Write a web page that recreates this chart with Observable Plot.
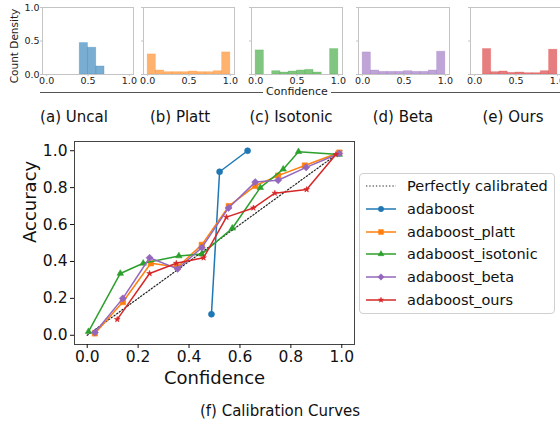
<!DOCTYPE html>
<html><head><meta charset="utf-8">
<script src="https://cdn.jsdelivr.net/npm/d3@7"></script>
<script src="https://cdn.jsdelivr.net/npm/@observablehq/plot@0.6"></script>
<style>
body{margin:0;background:#fff;}
#root{position:relative;width:560px;height:421px;overflow:hidden;font-family:"DejaVu Sans",sans-serif;color:#111;}
.cap{position:absolute;transform:translate(-50%,-50%);font-size:15px;white-space:nowrap;}
</style></head><body><div id="root"></div>
<script>
// ---------- data ----------
const binEdges = [0,0.1,0.2,0.3,0.4,0.5,0.6,0.7,0.8,0.9,1.0];
const histUncal    = [0,0,0,0,0.47,0.40,0.12,0,0,0];
const histPlatt    = [0.30,0.06,0.035,0.035,0.035,0.045,0.035,0.035,0.05,0.33];
const histIsotonic = [0.36,0,0.05,0.03,0.045,0.06,0.07,0.03,0,0.38];
const histBeta     = [0.33,0.06,0.04,0.04,0.04,0.05,0.04,0.04,0.06,0.34];
const histOurs     = [0,0.38,0.035,0.045,0.025,0.03,0.02,0.02,0.05,0.37];
const histCaptions = ["(a) Uncal","(b) Platt","(c) Isotonic","(d) Beta","(e) Ours"];

const seriesNames = ["adaboost","adaboost_platt","adaboost_isotonic","adaboost_beta","adaboost_ours"];
const seriesColors = ["#1f77b4","#ff7f0e","#2ca02c","#9467bd","#d62728"];
const uncalConf = [0.488,0.52,0.63];
const uncalAcc  = [0.114,0.886,1.0];
const plattConf = [0.03,0.14,0.25,0.355,0.45,0.556,0.66,0.75,0.855,0.99];
const plattAcc  = [0.01,0.18,0.39,0.37,0.49,0.70,0.81,0.865,0.92,0.99];
const isoConf   = [0.005,0.13,0.22,0.36,0.45,0.57,0.68,0.77,0.83,0.99];
const isoAcc    = [0.02,0.335,0.39,0.43,0.44,0.58,0.80,0.90,0.995,0.98];
const betaConf  = [0.03,0.14,0.245,0.355,0.45,0.555,0.66,0.75,0.86,0.99];
const betaAcc   = [0.015,0.20,0.42,0.36,0.475,0.69,0.83,0.84,0.91,0.985];
const oursConf  = [0.118,0.245,0.35,0.457,0.547,0.653,0.737,0.862,0.977];
const oursAcc   = [0.086,0.335,0.39,0.42,0.64,0.69,0.77,0.79,0.98];
const perfectConf = [0,1];
const perfectAcc  = [0,1];
const mainTicks = [0,0.2,0.4,0.6,0.8,1.0];
const histTicks = [0,0.5,1.0];

// ---------- layout ----------
const root = document.getElementById("root");
function place(el, left, top){ el.style.position="absolute"; el.style.left=left+"px"; el.style.top=top+"px"; root.appendChild(el); return el; }
const f1 = d3.format(".1f");

// histograms
const histVals = [histUncal,histPlatt,histIsotonic,histBeta,histOurs];
const frameLefts = [42,143,251,358,470];
const capX = [74,180,291,403,513];
const fw = 91, fTop = 7, fh = 67;
histVals.forEach((vals, k) => {
  const data = vals.map((v,i)=>({x1:binEdges[i], x2:binEdges[i+1], y:v})).filter(d=>d.y>0);
  const mL = k===0 ? 42 : 3, mR = 3, mT = 5, mB = 16;
  const marks = [
    Plot.rectY(data, {x1:"x1", x2:"x2", y:"y", fill:seriesColors[k], fillOpacity:0.6, stroke:seriesColors[k], strokeOpacity:0.25, strokeWidth:0.8, insetLeft:0, insetRight:0}),
    Plot.frame({stroke:"#c4c4c4"}),
    Plot.axisX({ticks:histTicks, tickFormat:f1, tickSize:2, tickPadding:1, fontSize:9.5, stroke:"#c4c4c4", label:null}),
    Plot.axisY({ticks:histTicks, tickFormat: k===0 ? f1 : ()=>"", tickSize:2, tickPadding:1, fontSize:9.5, stroke:"#c4c4c4", label:null})
  ];
  const p = Plot.plot({
    width: fw+mL+mR, height: fh+mT+mB,
    marginLeft:mL, marginRight:mR, marginTop:mT, marginBottom:mB,
    style:{fontFamily:"DejaVu Sans", color:"#222", background:"transparent", overflow:"visible"},
    x:{domain:[-0.05,1.05]}, y:{domain:[0,1]},
    marks
  });
  place(p, frameLefts[k]-mL, fTop-mT);
  const c = document.createElement("div"); c.className="cap"; c.textContent=histCaptions[k];
  place(c, capX[k], 117);
});
// y label of first histogram
const cd = document.createElement("div");
cd.textContent = "Count Density";
cd.style.cssText = "font-size:10.5px;white-space:nowrap;color:#222;transform:translate(-50%,-50%) rotate(-90deg);line-height:12px;";
place(cd, 14, 46);

// shared confidence rule
const rule = document.createElement("div");
rule.style.cssText="display:flex;align-items:center;width:520px;height:14px;";
rule.innerHTML = '<div style="flex:0 0 223px;border-top:1px solid #555"></div><span style="font-size:11px;padding:0 3px;line-height:14px;color:#222">Confidence</span><div style="flex:1;border-top:1px solid #555"></div>';
place(rule, 40, 85);

// main calibration plot
const series = [[uncalConf,uncalAcc],[plattConf,plattAcc],[isoConf,isoAcc],[betaConf,betaAcc],[oursConf,oursAcc]];
const symbols = ["circle","square","triangle","diamond2","star"];
const radii = [3,3,2.4,3.2,1.8];
const toRows = (cs, as) => cs.map((c,i)=>({conf:c, acc:as[i]}));
const mainMarks = [
  Plot.line(toRows(perfectConf,perfectAcc), {x:"conf", y:"acc", stroke:"#222", strokeWidth:1.2, strokeDasharray:"1.3,2"})
];
series.forEach(([cs,as],k)=>{
  const rows = toRows(cs,as);
  mainMarks.push(Plot.line(rows, {x:"conf", y:"acc", stroke:seriesColors[k], strokeWidth:1.5}));
  mainMarks.push(Plot.dot(rows, {x:"conf", y:"acc", fill:seriesColors[k], stroke:seriesColors[k], strokeWidth:0.6, symbol:symbols[k], r:radii[k]}));
});
mainMarks.push(
  Plot.frame({stroke:"#444"}),
  Plot.axisX({ticks:mainTicks, tickFormat:f1, tickSize:4, tickPadding:2, fontSize:15.5, label:null}),
  Plot.axisY({ticks:mainTicks, tickFormat:f1, tickSize:4, tickPadding:3, fontSize:15.5, label:null}),
  Plot.text(["Confidence"], {frameAnchor:"bottom", dy:39, fontSize:18, fill:"#111"}),
  Plot.text(["Accuracy"], {frameAnchor:"left", dx:-44, rotate:-90, fontSize:18, fill:"#111"})
);
const main = Plot.plot({
  width:360, height:260, marginLeft:74, marginRight:6, marginTop:11, marginBottom:46,
  style:{fontFamily:"DejaVu Sans", color:"#111", background:"transparent", overflow:"visible"},
  x:{domain:[-0.05,1.05]}, y:{domain:[-0.05,1.05]},
  marks: mainMarks
});
place(main, 0, 130);

// caption f
const cf = document.createElement("div"); cf.className="cap"; cf.textContent="(f) Calibration Curves";
place(cf, 280, 411);

// legend
const leg = document.createElement("div");
leg.style.cssText="width:194px;height:139px;border:1px solid #d0d0d0;border-radius:4px;background:#fff;";
place(leg, 359, 173);
const legItems = [{name:"Perfectly calibrated", color:"#222", symbol:null}]
  .concat(seriesNames.map((n,k)=>({name:n, color:seriesColors[k], symbol:symbols[k], r:radii[k]})));
const symMap = {circle:d3.symbolCircle, square:d3.symbolSquare, triangle:d3.symbolTriangle, diamond2:d3.symbolDiamond2, star:d3.symbolStar};
legItems.forEach((it,i)=>{
  const cy = 12 + i*22.8;
  const svg = d3.create("svg").attr("width",32).attr("height",14).style("position","absolute").style("left","5px").style("top",(cy-7)+"px");
  svg.append("line").attr("x1",1).attr("x2",31).attr("y1",7).attr("y2",7)
    .attr("stroke",it.color).attr("stroke-width", it.symbol?1.5:1.2).attr("stroke-dasharray", it.symbol?null:"1.3,2");
  if (it.symbol) svg.append("path").attr("transform","translate(16,7)")
    .attr("d", d3.symbol(symMap[it.symbol], Math.PI*it.r*it.r*0.8)()).attr("fill",it.color).attr("stroke",it.color).attr("stroke-width",0.6);
  leg.appendChild(svg.node());
  const t = document.createElement("div");
  t.textContent = it.name;
  t.style.cssText = `position:absolute;left:47px;top:${cy-9}px;font-size:14.5px;line-height:18px;white-space:nowrap;`;
  leg.appendChild(t);
});
</script>
</body></html>
